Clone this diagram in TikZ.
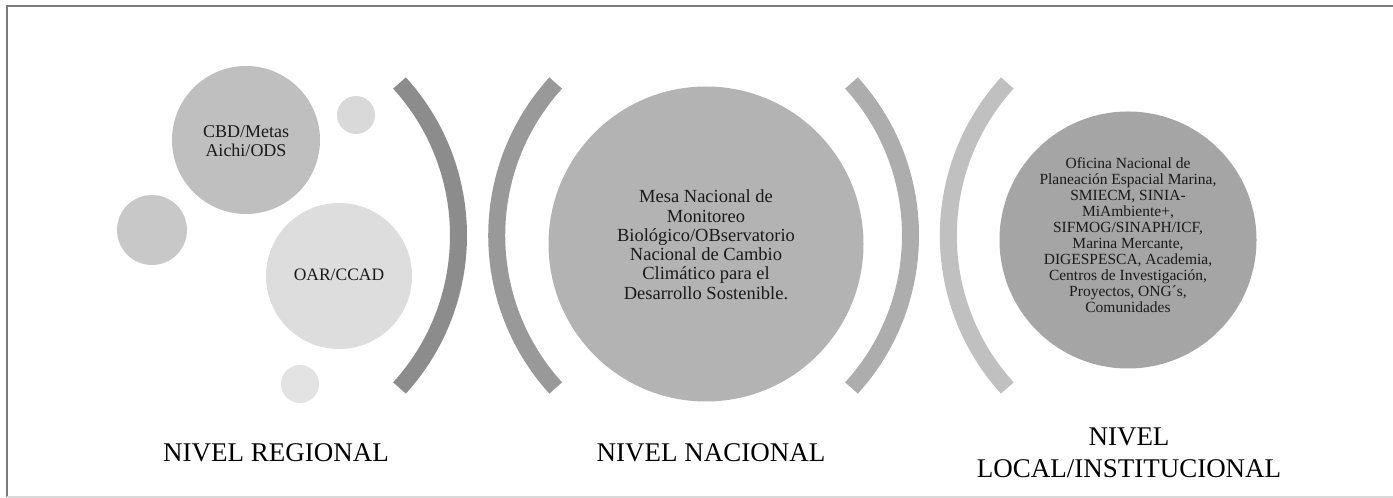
\documentclass[tikz,border=0pt]{standalone}
\usepackage{fontspec}
\setmainfont{Liberation Serif}
\definecolor{frameC}{HTML}{7A7A7A}
\definecolor{frameB}{HTML}{D9D9D9}
\definecolor{arcA}{HTML}{8C8C8C}
\definecolor{arcB}{HTML}{999999}
\definecolor{arcC}{HTML}{ADADAD}
\definecolor{arcD}{HTML}{C0C0C0}
\definecolor{cCBD}{HTML}{BFBFBF}
\definecolor{cDotA}{HTML}{D9D9D9}
\definecolor{cDotB}{HTML}{C8C8C8}
\definecolor{cOAR}{HTML}{DDDDDD}
\definecolor{cDotC}{HTML}{E3E3E3}
\definecolor{cMid}{HTML}{B3B3B3}
\definecolor{cRight}{HTML}{A5A5A5}
\definecolor{txt}{HTML}{1A1A1A}
\tikzset{
  bubble/.style={circle, draw=none, inner sep=0pt, minimum size=#1},
  paren/.style={line width=17pt, line cap=butt},
  bubbletext/.style={align=center, text=txt, inner sep=0pt},
  levellabel/.style={align=center, text=black, inner sep=0pt, font=\fontsize{27}{32}\selectfont}
}
\begin{document}
\begin{tikzpicture}[x=1pt, y=1pt]
\useasboundingbox (0,0) rectangle (1393,498);
% frame
\draw[line width=2pt, frameC] (7,1) -- (7,492) -- (1393,492);
\draw[line width=1.5pt, frameB] (7,1) -- (1393,1);

% regional bubbles
\node[bubble=148, fill=cCBD] (cbd) at (246,358) {};
\node[bubble=38, fill=cDotA] (dotA) at (356,383) {};
\node[bubble=70, fill=cDotB] (dotB) at (152,268) {};
\node[bubble=146, fill=cOAR] (oar) at (339,222) {};
\node[bubble=38, fill=cDotC] (dotC) at (300,114) {};
\node[bubbletext, font=\fontsize{18}{18.3}\selectfont] (cbdtext) at (246,357) {CBD/Metas\\Aichi/ODS};
\node[bubbletext, font=\fontsize{17.5}{18}\selectfont] (oartext) at (339,223) {OAR/CCAD};

% national and local bubbles
\node[bubble=315, fill=cMid] (mid) at (706,254) {};
\node[bubble=257, fill=cRight] (right) at (1128,258) {};
\node[bubbletext, font=\fontsize{18.5}{19.3}\selectfont] (midtext) at (706,253.3)
  {Mesa Nacional de\\Monitoreo\\Biológico/OBservatorio\\Nacional de Cambio\\Climático para el\\Desarrollo Sostenible.};
\node[bubbletext, font=\fontsize{15.5}{16}\selectfont] (righttext) at (1128,263)
  {Oficina Nacional de\\Planeación Espacial Marina,\\SMIECM, SINIA-\\MiAmbiente+,\\SIFMOG/SINAPH/ICF,\\Marina Mercante,\\DIGESPESCA, Academia,\\Centros de Investigación,\\Proyectos, ONG´s,\\Comunidades};

% parentheses arcs
\coordinate (c1) at (231.9,262.5);
\coordinate (c2) at (723.3,262.5);
\coordinate (c3) at (683.9,262.5);
\coordinate (c4) at (1174.9,262.5);
\draw[paren, arcA] (c1) ++(-42.3:226.6) arc[start angle=-42.3, end angle=42.3, radius=226.6];
\draw[paren, arcB] (c2) ++(137.7:226.6) arc[start angle=137.7, end angle=222.3, radius=226.6];
\draw[paren, arcC] (c3) ++(-42.3:226.6) arc[start angle=-42.3, end angle=42.3, radius=226.6];
\draw[paren, arcD] (c4) ++(137.7:226.6) arc[start angle=137.7, end angle=222.3, radius=226.6];

% level labels
\node[levellabel] (lreg) at (276,45) {NIVEL REGIONAL};
\node[levellabel] (lnac) at (711,45) {NIVEL NACIONAL};
\node[levellabel] (lloc) at (1129,45) {NIVEL\\LOCAL/INSTITUCIONAL};
\end{tikzpicture}
\end{document}
